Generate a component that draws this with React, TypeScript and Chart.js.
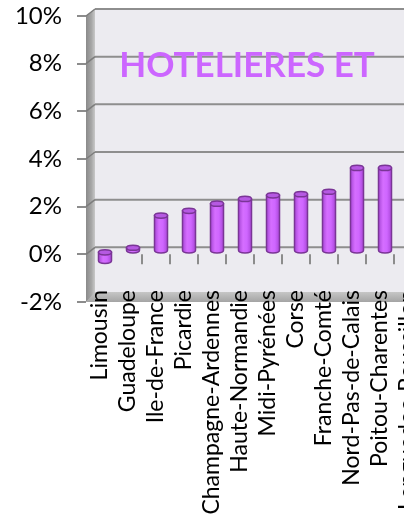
import React, { useEffect, useRef } from "react";
import { Chart, registerables } from "chart.js";

Chart.register(...registerables);

const categories = [
  "Limousin",
  "Guadeloupe",
  "Ile-de-France",
  "Picardie",
  "Champagne-Ardennes",
  "Haute-Normandie",
  "Midi-Pyrénées",
  "Corse",
  "Franche-Comté",
  "Nord-Pas-de-Calais",
  "Poitou-Charentes",
  "Languedoc-Roussillon",
];
const values = [-0.4, 0.15, 1.5, 1.7, 2.0, 2.2, 2.35, 2.4, 2.5, 3.5, 3.5, 3.7];
const yTicks = [-2, 0, 2, 4, 6, 8, 10];
const titleText = "HOTELIERES ET";

const DX = 9;
const DY = -7;
const BDX = 5;
const BDY = -3;

const wallsPlugin = {
  id: "walls",
  beforeDraw(chart: any) {
    const { ctx, chartArea: a } = chart;
    const x = chart.scales.x;
    const y = chart.scales.y;
    const L = a.left;
    const R = chart.width;
    const T = a.top;
    const B = a.bottom;
    ctx.save();
    // back wall
    ctx.fillStyle = "#ECEBF0";
    ctx.fillRect(L + DX, T + DY, R - (L + DX), B - T);
    // left wall
    const g = ctx.createLinearGradient(L, 0, L + DX, 0);
    g.addColorStop(0, "#8A8A8A");
    g.addColorStop(0.6, "#A6A6A6");
    g.addColorStop(1, "#C8C8C8");
    ctx.fillStyle = g;
    ctx.beginPath();
    ctx.moveTo(L, T);
    ctx.lineTo(L + DX, T + DY);
    ctx.lineTo(L + DX, B + DY);
    ctx.lineTo(L, B);
    ctx.closePath();
    ctx.fill();
    // floor
    const fg = ctx.createLinearGradient(0, B + DY - 3, 0, B);
    fg.addColorStop(0, "#C6C6C6");
    fg.addColorStop(1, "#A4A4A4");
    ctx.fillStyle = fg;
    ctx.beginPath();
    ctx.moveTo(L, B);
    ctx.lineTo(L + DX, B + DY - 3);
    ctx.lineTo(R, B + DY - 3);
    ctx.lineTo(R, B);
    ctx.closePath();
    ctx.fill();
    // gridlines on back wall
    for (const v of yTicks) {
      if (v === -2) continue;
      const py = y.getPixelForValue(v);
      ctx.strokeStyle = "#8E8E8E";
      ctx.lineWidth = 2;
      ctx.beginPath();
      ctx.moveTo(L + DX, py + DY);
      ctx.lineTo(R, py + DY);
      ctx.stroke();
      ctx.strokeStyle = "#7C7C7C";
      ctx.lineWidth = 1.5;
      ctx.beginPath();
      ctx.moveTo(L, py);
      ctx.lineTo(L + DX, py + DY);
      ctx.stroke();
    }
    // category tick marks on the zero line
    const y0 = y.getPixelForValue(0);
    ctx.strokeStyle = "#8C8C8C";
    ctx.lineWidth = 2;
    for (let i = 2; i < categories.length; i++) {
      const px = (x.getPixelForValue(i - 1) + x.getPixelForValue(i)) / 2;
      ctx.beginPath();
      ctx.moveTo(px, y0);
      ctx.lineTo(px, y0 + 10);
      ctx.stroke();
    }
    ctx.restore();
  },
};

const cylinderPlugin = {
  id: "cylinders",
  afterDatasetsDraw(chart: any) {
    const { ctx, chartArea: a } = chart;
    const meta = chart.getDatasetMeta(0);
    ctx.save();
    for (const el of meta.data) {
      const cx = el.x + BDX;
      const top = Math.min(el.y, el.base) + BDY;
      const bot = Math.max(el.y, el.base) + BDY;
      const rx = el.width / 2;
      const ry = Math.max(2.5, el.width * 0.2);
      const g = ctx.createLinearGradient(cx - rx, 0, cx + rx, 0);
      g.addColorStop(0, "#A746D6");
      g.addColorStop(0.35, "#D56EFF");
      g.addColorStop(0.65, "#CF66FF");
      g.addColorStop(1, "#A946D8");
      ctx.beginPath();
      ctx.moveTo(cx - rx, top);
      ctx.lineTo(cx - rx, bot);
      ctx.ellipse(cx, bot, rx, ry, 0, Math.PI, 0, true);
      ctx.lineTo(cx + rx, top);
      ctx.closePath();
      ctx.fillStyle = g;
      ctx.fill();
      ctx.strokeStyle = "#7A3596";
      ctx.lineWidth = 1.5;
      ctx.stroke();
      ctx.beginPath();
      ctx.ellipse(cx, top, rx, ry, 0, 0, Math.PI * 2);
      ctx.fillStyle = "#B659E2";
      ctx.fill();
      ctx.stroke();
    }
    // title
    ctx.font = "bold 35px Lato";
    ctx.fillStyle = "#CC66FF";
    ctx.textAlign = "center";
    ctx.textBaseline = "middle";
    ctx.fillText(titleText, a.left + 161, a.top + 50);
    ctx.restore();
  },
};

export default function App() {
  const ref = useRef<HTMLCanvasElement | null>(null);
  useEffect(() => {
    const canvas = ref.current;
    if (!canvas) return;
    const chart = new Chart(canvas, {
      type: "bar",
      data: {
        labels: categories,
        datasets: [
          {
            data: values,
            backgroundColor: "rgba(0,0,0,0)",
            borderWidth: 0,
            barPercentage: 0.465,
            categoryPercentage: 1,
          },
        ],
      },
      options: {
        responsive: false,
        animation: false,
        devicePixelRatio: 1,
        layout: { padding: { top: 16, left: 0, right: 0, bottom: 220 } },
        plugins: {
          legend: { display: false },
          tooltip: { enabled: false },
          title: { display: false },
        },
        scales: {
          x: {
            position: { y: -2 },
            grid: { display: false },
            border: { display: false },
            ticks: {
              autoSkip: false,
              minRotation: 90,
              maxRotation: 90,
              padding: -20,
              color: "#000",
              font: { family: "Lato", size: 23 },
            },
          },
          y: {
            min: -2,
            max: 10,
            grid: {
              display: true,
              drawOnChartArea: false,
              drawTicks: true,
              tickLength: 9,
              color: "#8C8C8C",
              lineWidth: 2,
            },
            border: { display: false },
            ticks: {
              stepSize: 2,
              padding: 15,
              color: "#000",
              font: { family: "Lato", size: 24 },
              callback: (v: any) => v + "%",
            },
            afterFit: (s: any) => {
              s.width = 86;
              s.paddingTop = 0;
              s.paddingBottom = 0;
            },
          },
        },
      },
      plugins: [wallsPlugin, cylinderPlugin],
    });
    return () => chart.destroy();
  }, []);
  return (
    <div
      style={{
        position: "fixed",
        left: 0,
        top: 0,
        width: 404,
        height: 522,
        overflow: "hidden",
        background: "#fff",
      }}
    >
      <canvas ref={ref} width={422} height={522} style={{ width: 422, height: 522, display: "block" }} />
    </div>
  );
}
